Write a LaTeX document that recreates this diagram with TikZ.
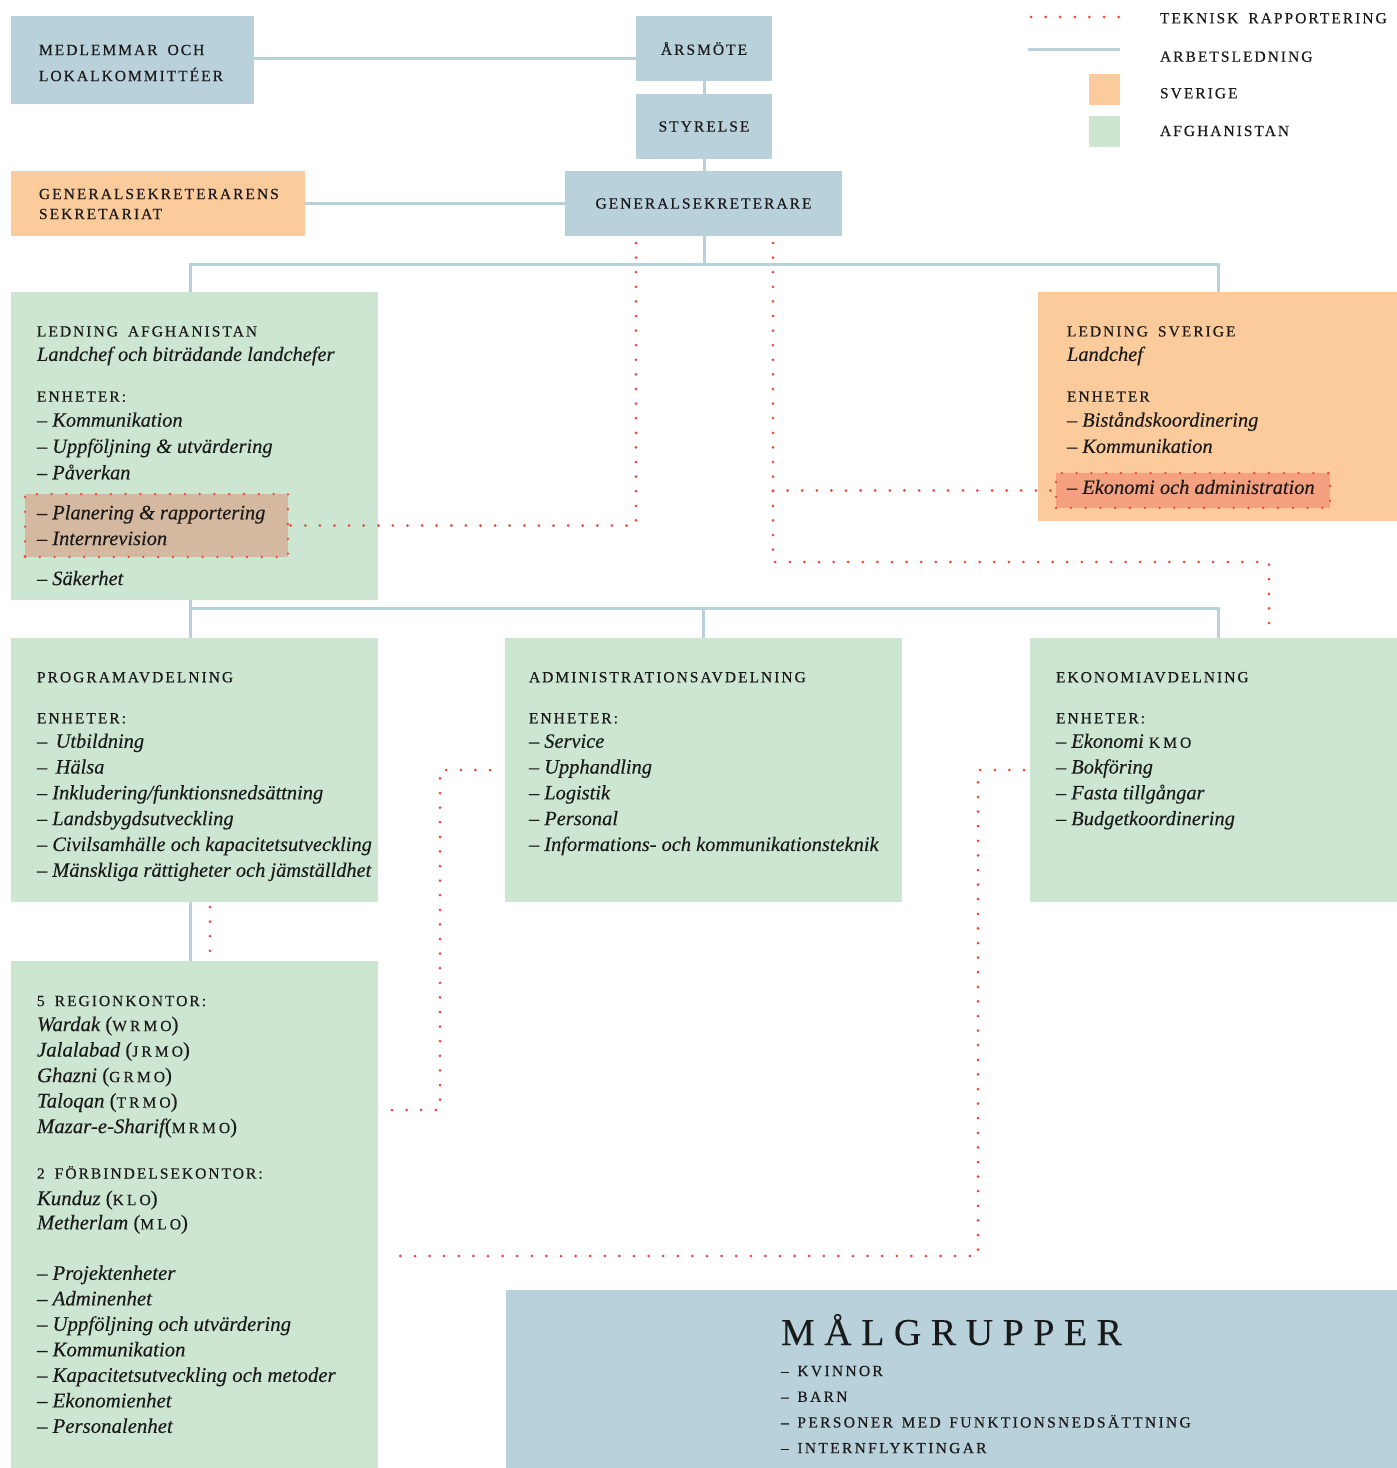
\documentclass[tikz,border=0pt]{standalone}
\usepackage{fontspec}
\setmainfont{Liberation Serif}
\newfontfamily\capsfam{Liberation Serif}[LetterSpace=13,WordSpace=1.7,FakeBold=0.35]
\newfontfamily\titlefam{Liberation Serif}[LetterSpace=25,FakeBold=0.2]
\newfontfamily\malgfam{Liberation Serif}[LetterSpace=15,WordSpace=1.4,FakeBold=0.35]
\newfontfamily\scfam{Liberation Serif}[LetterSpace=20,FakeBold=0.3]
\newfontfamily\itfam{Liberation Serif}[FakeBold=0.25]
\definecolor{cblue}{HTML}{B9D1DB}
\definecolor{corange}{HTML}{FCCB9C}
\definecolor{cgreen}{HTML}{CDE6D2}
\definecolor{ctan}{HTML}{D4B8A0}
\definecolor{csalmon}{HTML}{F5A07F}
\definecolor{cred}{HTML}{E84A3A}
\definecolor{ctext}{HTML}{1A1A1A}
\newcommand\capsA{\capsfam\upshape\fontsize{15.5}{25.8}\selectfont}
\newcommand\capsT{\titlefam\upshape\fontsize{38}{44}\selectfont}
\newcommand\capsM{\malgfam\upshape\fontsize{15.5}{25.7}\selectfont}
\newcommand\scab[1]{{\scfam\upshape\fontsize{15.5}{25.8}\selectfont#1}}
\newcommand\itemfont{\itfam\itshape\fontsize{20.4}{25.8}\selectfont}
\newcommand\itemfontR{\itfam\itshape\fontsize{20.8}{25.5}\selectfont}
\begin{document}
\begin{tikzpicture}[x=1pt,y=-1pt,
  cbox/.style={inner sep=0pt, outer sep=0pt, anchor=north west, draw=none, text=ctext},
  bluebox/.style={cbox, fill=cblue},
  orbox/.style={cbox, fill=corange},
  grbox/.style={cbox, fill=cgreen},
  hlbox/.style={cbox, draw=cred, line width=2.6pt, line cap=round, dash pattern=on 0pt off 14.8pt},
  txt/.style={inner sep=0pt, outer sep=0pt, anchor=north west, align=left, text=ctext},
  legtxt/.style={inner sep=0pt, outer sep=0pt, anchor=base west, text=ctext, font=\capsA},
  bline/.style={draw=cblue, line width=3pt},
  dotline/.style={draw=cred, line width=3pt, line cap=round, dash pattern=on 0pt off 14.6pt}]
\useasboundingbox (0,0) rectangle (1397,1468);

% ---------- boxes ----------
\node[bluebox, minimum width=243pt, minimum height=88pt] (medlem) at (11,16) {};
\node[bluebox, minimum width=136pt, minimum height=65pt, font=\capsA] (arsmote) at (636,16) {ÅRSMÖTE};
\node[bluebox, minimum width=136pt, minimum height=65pt, font=\capsA] (styrelse) at (636,94) {STYRELSE};
\node[bluebox, minimum width=277pt, minimum height=65pt, font=\capsA] (gs) at (565,171) {GENERALSEKRETERARE};
\node[orbox, minimum width=294pt, minimum height=65pt] (sekr) at (11,171) {};
\node[grbox, minimum width=367pt, minimum height=308pt] (ledA) at (11,292) {};
\node[orbox, minimum width=359pt, minimum height=229pt] (ledS) at (1038,292) {};
\node[grbox, minimum width=367pt, minimum height=264pt] (prog) at (11,638) {};
\node[grbox, minimum width=397pt, minimum height=264pt] (admin) at (505,638) {};
\node[grbox, minimum width=367pt, minimum height=264pt] (eko) at (1030,638) {};
\node[grbox, minimum width=367pt, minimum height=507pt] (region) at (11,961) {};
\node[bluebox, minimum width=891pt, minimum height=178pt] (malg) at (506,1290) {};

% highlighted units
\node[hlbox, fill=ctan, minimum width=263pt, minimum height=63pt] (planhl) at (25,494) {};
\node[hlbox, fill=csalmon, minimum width=274pt, minimum height=35pt] (ekohl) at (1056,473) {};

% legend
\node[orbox, minimum width=31pt, minimum height=31pt] (legOr) at (1089,74) {};
\node[grbox, minimum width=31pt, minimum height=31pt] (legGr) at (1089,116) {};
\coordinate (legD1) at (1031,17);
\coordinate (legD2) at (1120,17);
\coordinate (legB1) at (1028,49);
\coordinate (legB2) at (1120,49);
\draw[dotline] (legD1) -- (legD2);
\draw[bline] (legB1) -- (legB2);
\node[legtxt] (legT1) at (1160,23.3) {TEKNISK RAPPORTERING};
\node[legtxt] (legT2) at (1160,61.7) {ARBETSLEDNING};
\node[legtxt] (legT3) at (1160,98.3) {SVERIGE};
\node[legtxt] (legT4) at (1160,136) {AFGHANISTAN};

% ---------- texts ----------
\node[txt, font=\capsA\fontsize{15.5}{26}\selectfont] (medlemtxt) at (39,44.8) {MEDLEMMAR OCH\\LOKALKOMMITTÉER};
\node[txt, font=\capsA\fontsize{15.5}{20}\selectfont] (sekrtxt) at (39,188.8) {GENERALSEKRETERARENS\\SEKRETARIAT};

\node[txt, font=\itemfont] (ledAtxt) at (37,326.2) {{\capsA LEDNING AFGHANISTAN}\\[-1.3pt]
Landchef och biträdande landchefer\\[14.9pt]
{\capsA ENHETER:}\\[-0.8pt]
– Kommunikation\\[0.5pt]
– Uppföljning \& utvärdering\\[0.5pt]
– Påverkan\\[14.2pt]
– Planering \& rapportering\\
– Internrevision\\[14.2pt]
– Säkerhet};

\node[txt, font=\itemfont] (ledStxt) at (1067,326.2) {{\capsA LEDNING SVERIGE}\\[-1.3pt]
Landchef\\[14.9pt]
{\capsA ENHETER}\\[-0.8pt]
– Biståndskoordinering\\[0.5pt]
– Kommunikation\\[15.2pt]
– Ekonomi och administration};

\node[txt, font=\itemfont] (progtxt) at (37,672) {{\capsA PROGRAMAVDELNING}\\[15.2pt]
{\capsA ENHETER:}\\[-1.3pt]
– \,Utbildning\\
– \,Hälsa\\
– Inkludering/funktionsnedsättning\\
– Landsbygdsutveckling\\
– Civilsamhälle och kapacitetsutveckling\\
– Mänskliga rättigheter och jämställdhet};

\node[txt, font=\itemfont] (admintxt) at (529,672) {{\capsA ADMINISTRATIONSAVDELNING}\\[15.2pt]
{\capsA ENHETER:}\\[-1.3pt]
– Service\\
– Upphandling\\
– Logistik\\
– Personal\\
– Informations- och kommunikationsteknik};

\node[txt, font=\itemfont] (ekotxt) at (1056,672) {{\capsA EKONOMIAVDELNING}\\[15.2pt]
{\capsA ENHETER:}\\[-1.3pt]
– Ekonomi \scab{KMO}\\
– Bokföring\\
– Fasta tillgångar\\
– Budgetkoordinering};

\node[txt, font=\itemfontR] (regiontxt) at (37,995.8) {{\capsA 5 REGIONKONTOR:}\\[-0.5pt]
Wardak {\upshape(\scab{WRMO})}\\
Jalalabad {\upshape(\scab{JRMO})}\\
Ghazni {\upshape(\scab{GRMO})}\\
Taloqan {\upshape(\scab{TRMO})}\\
Mazar-e-Sharif{\upshape(\scab{MRMO})}\\[20pt]
{\capsA 2 FÖRBINDELSEKONTOR:}\\[1pt]
Kunduz {\upshape(\scab{KLO})}\\[-1.2pt]
Metherlam {\upshape(\scab{MLO})}\\[25pt]
– Projektenheter\\
– Adminenhet\\
– Uppföljning och utvärdering\\
– Kommunikation\\
– Kapacitetsutveckling och metoder\\
– Ekonomienhet\\
– Personalenhet};

\node[inner sep=0pt, outer sep=0pt, anchor=base west, text=ctext, font=\capsT] (malgtitle) at (781,1345) {MÅLGRUPPER};
\node[txt, font=\capsM] (malgtxt) at (781,1365.8) {– KVINNOR\\
– BARN\\
– PERSONER MED FUNKTIONSNEDSÄTTNING\\
– INTERNFLYKTINGAR};

% ---------- line management (solid) ----------
\coordinate (y58) at (0,58);
\draw[bline] (medlem.east |- y58) -- (arsmote.west |- y58);
\draw[bline] (arsmote.south) -- (styrelse.north);
\draw[bline] (styrelse.south) -- (styrelse.south |- gs.north);
\draw[bline] (sekr.east) -- (gs.west);
\coordinate (busA) at (704,264);
\coordinate (ledAtop) at (190,292);
\coordinate (ledStop) at (1218,292);
\draw[bline] (gs.south -| busA) -- (busA);
\draw[bline] (ledAtop) |- (busA) -| (ledStop);
\coordinate (ledAbot) at (190,600);
\coordinate (busB) at (190,608);
\coordinate (progtop) at (190,638);
\coordinate (ekotop) at (1218,638);
\draw[bline] (ledAbot) -- (progtop);
\draw[bline] (busB) -| (ekotop);
\draw[bline] (admin.north |- busB) -- (admin.north);
\coordinate (progbot) at (190,902);
\coordinate (regiontop) at (190,961);
\draw[bline] (progbot) -- (regiontop);

% ---------- technical reporting (dotted) ----------
\coordinate (gsA) at (636,243);
\draw[dotline] (gsA) |- (planhl.east);
\coordinate (gsB) at (773,243);
\coordinate (bendB) at (773,562);
\coordinate (ekoB) at (1269,630);
\draw[dotline] (gsB) -- (bendB) -| (ekoB);
\draw[dotline] (ekohl.west -| gsB) -- (ekohl.west);
\coordinate (progC) at (210,907);
\coordinate (regionC) at (210,958);
\draw[dotline] (progC) -- (regionC);
\coordinate (adminD) at (490,770);
\coordinate (cornD) at (440,1110);
\coordinate (regionD) at (390,1110);
\draw[dotline] (adminD) -| (cornD) -- (regionD);
\coordinate (ekoE) at (1024,770);
\coordinate (cornE) at (978,1256);
\coordinate (regionE) at (390,1256);
\draw[dotline] (ekoE) -| (cornE) -- (regionE);
\end{tikzpicture}
\end{document}
